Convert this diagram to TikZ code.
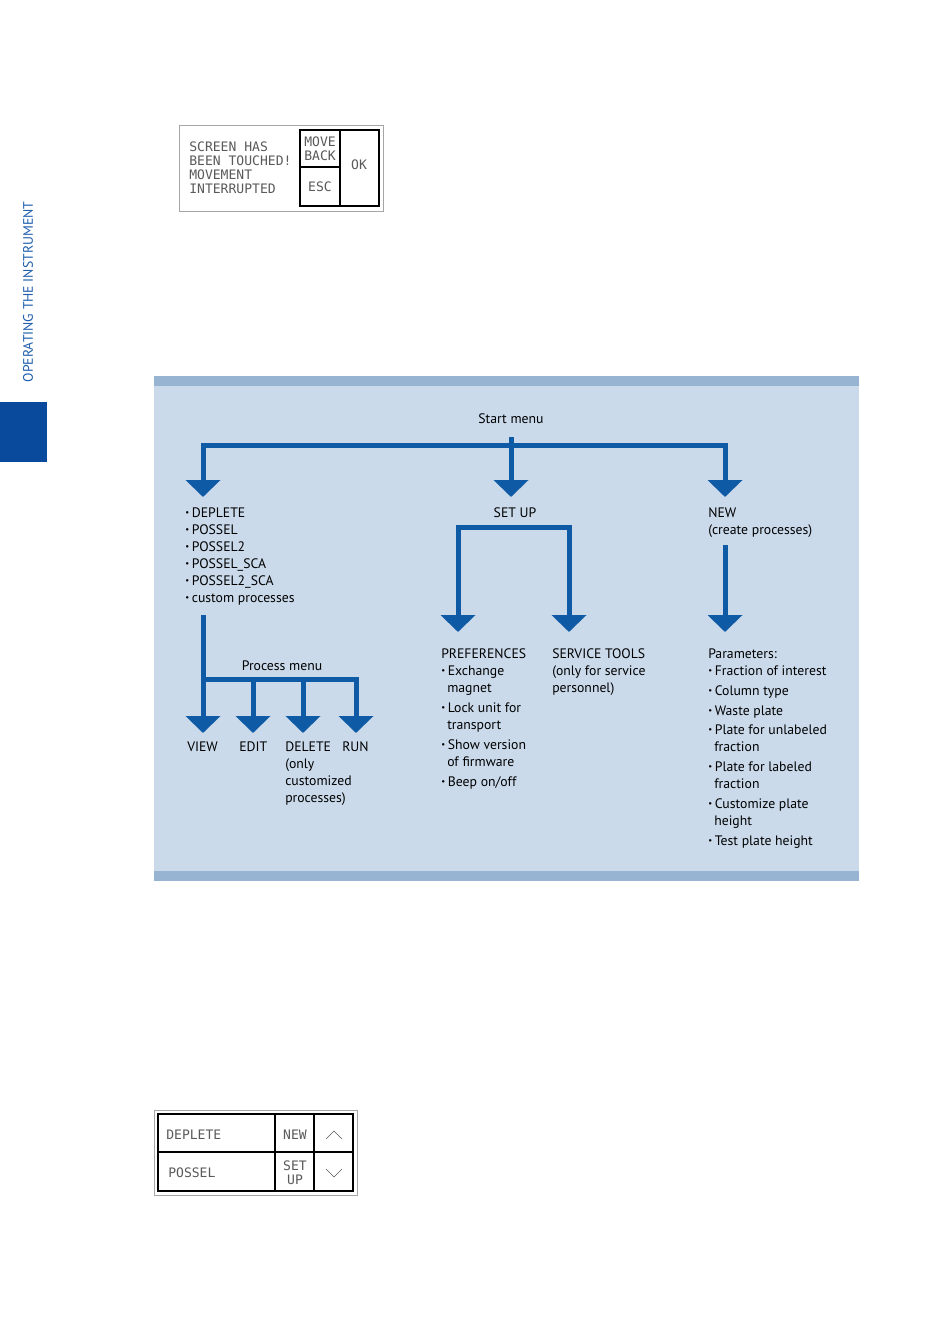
\documentclass[tikz,border=0pt]{standalone}
\usepackage{fontspec}
\setmainfont{PT Sans}
\newfontfamily\lcdfont{DejaVu Sans Mono}
\usetikzlibrary{arrows.meta}
\definecolor{panelbg}{RGB}{202,218,235}
\definecolor{panelband}{RGB}{152,180,211}
\definecolor{arrowblue}{RGB}{14,90,165}
\definecolor{sideblue}{RGB}{10,74,156}
\definecolor{sidetext}{RGB}{31,95,174}
\definecolor{lcdgray}{RGB}{90,90,90}
\newcommand\fs{\fontsize{10.3}{12}\selectfont}
\newcommand\bl{\raisebox{1pt}{\fontsize{6.5}{6.5}\selectfont\textbullet}\hspace{2pt}}
\tikzset{
  lbl/.style={anchor=base west, inner sep=0pt, font=\fs},
  clbl/.style={anchor=base, inner sep=0pt, font=\fs},
  lcdtxt/.style={anchor=base, inner sep=0pt, font=\lcdfont\fontsize{9.8}{10}\selectfont, text=lcdgray},
  lcdtxtl/.style={lcdtxt, anchor=base west},
  lcdouter/.style={draw=gray!70, line width=0.6pt},
  lcdinner/.style={draw=black, line width=1.4pt},
  lcdline/.style={draw=black, line width=1.2pt},
  chev/.style={draw=lcdgray, line width=0.5pt},
  flow/.style={draw=arrowblue, line width=3.75pt, line join=miter},
  arr/.style={flow, -{Triangle[width=25.5pt,length=12.75pt]}},
  darr/.style={flow, {Triangle[width=25.5pt,length=12.75pt]}-{Triangle[width=25.5pt,length=12.75pt]}},
}
\begin{document}
\begin{tikzpicture}[x=0.75pt,y=-0.75pt]
\useasboundingbox (0,0) rectangle (950,1344);
\fill[white] (0,0) rectangle (950,1344);

% side tab
\fill[sideblue] (0,402) rectangle (47,462);
\node[rotate=90, inner sep=0pt, font=\fs, text=sidetext] (side) at (28,292) {OPERATING THE INSTRUMENT};

% top LCD
\draw[lcdouter] (179,125) rectangle (383,211);
\draw[lcdinner] (300,130) rectangle (379,206);
\draw[lcdline] (340,130) -- (340,206);
\draw[lcdline] (300,167) -- (340,167);
\node[lcdtxtl] (l1) at (189,152) {SCREEN HAS};
\node[lcdtxtl] (l2) at (189,166) {BEEN TOUCHED!};
\node[lcdtxtl] (l3) at (189,180) {MOVEMENT};
\node[lcdtxtl] (l4) at (189,194) {INTERRUPTED};
\node[lcdtxt] (mv) at (320,147) {MOVE};
\node[lcdtxt] (bk) at (320,161) {BACK};
\node[lcdtxt] (esc) at (320,192) {ESC};
\node[lcdtxt] (ok) at (359,170) {OK};

% panel
\fill[panelbg] (154,376) rectangle (859,881);
\fill[panelband] (154,376) rectangle (859,386);
\fill[panelband] (154,871) rectangle (859,881);

% start menu
\node[clbl] (start) at (511,423) {Start menu};
\coordinate (stubtop) at (511,437);
\coordinate (tipDep) at (203,497);
\coordinate (tipSet) at (511,497);
\coordinate (tipNew) at (725,497);
\draw[darr] (tipDep) -- (203,445) -- (725,445) -- (tipNew);
\draw[arr] (stubtop) -- (tipSet);

% deplete list
\foreach \t/\y [count=\i] in {{DEPLETE}/512, {POSSEL}/529, {POSSEL2}/546, {POSSEL\_SCA}/563, {POSSEL2\_SCA}/580, {custom processes}/597}
  \node[lbl] (dep\i) at (185,\y+5) {\bl\t};

% process menu
\coordinate (procTop) at (203,615);
\coordinate (tipView) at (203,733);
\coordinate (tipEdit) at (253,733);
\coordinate (tipDel) at (303,733);
\coordinate (tipRun) at (356,733);
\node[clbl] (proc) at (282,670) {Process menu};
\draw[arr] (procTop) -- (tipView);
\draw[arr] (203,679) -- (356,679) -- (tipRun);
\draw[arr] (253,679) -- (tipEdit);
\draw[arr] (303,679) -- (tipDel);
\node[lbl] (view) at (187,751) {VIEW};
\node[lbl] (edit) at (239,751) {EDIT};
\node[lbl] (del1) at (285,751) {DELETE};
\node[lbl] (del2) at (285,768) {(only};
\node[lbl] (del3) at (285,785) {customized};
\node[lbl] (del4) at (285,802) {processes)};
\node[lbl] (run) at (342,751) {RUN};

% set up
\node[clbl] (setup) at (515,517) {SET UP};
\coordinate (tipPref) at (458,632);
\coordinate (tipServ) at (569,632);
\draw[darr] (tipPref) -- (458,527) -- (569,527) -- (tipServ);

\node[lbl] (pref) at (441,658) {PREFERENCES};
\foreach \t/\x/\y [count=\i] in {{\bl Exchange}/441/670, {magnet}/447/687, {\bl Lock unit for}/441/707, {transport}/447/724, {\bl Show version}/441/744, {of firmware}/447/761, {\bl Beep on/off}/441/781}
  \node[lbl] (pr\i) at (\x,\y+5) {\t};

\node[lbl] (serv1) at (552,658) {SERVICE TOOLS};
\node[lbl] (serv2) at (552,675) {(only for service};
\node[lbl] (serv3) at (552,692) {personnel)};

% new
\node[lbl] (new1) at (708,517) {NEW};
\node[lbl] (new2) at (708,534) {(create processes)};
\coordinate (newTop) at (725,545);
\coordinate (tipPar) at (725,632);
\draw[arr] (newTop) -- (tipPar);

\node[lbl] (par) at (708,658) {Parameters:};
\foreach \t/\x/\y [count=\i] in {{\bl Fraction of interest}/708/670, {\bl Column type}/708/690, {\bl Waste plate}/708/710, {\bl Plate for unlabeled}/708/729, {fraction}/714/746, {\bl Plate for labeled}/708/766, {fraction}/714/783, {\bl Customize plate}/708/803, {height}/714/820, {\bl Test plate height}/708/840}
  \node[lbl] (pa\i) at (\x,\y+5) {\t};

% bottom LCD
\draw[lcdouter] (154,1110) rectangle (357,1195);
\draw[lcdinner] (158,1114) rectangle (353,1191);
\draw[lcdline] (275,1114) -- (275,1191);
\draw[lcdline] (314,1114) -- (314,1191);
\draw[lcdline] (158,1152) -- (353,1152);
\node[lcdtxtl] (b1) at (166,1139) {DEPLETE};
\node[lcdtxtl] (b2) at (168,1177) {POSSEL};
\node[lcdtxt] (b3) at (295,1139) {NEW};
\node[lcdtxt] (b4) at (295,1170) {SET};
\node[lcdtxt] (b5) at (295,1184) {UP};
\draw[chev] (326,1139) -- (334,1131) -- (342,1139);
\draw[chev] (326,1169) -- (334,1177) -- (342,1169);
\end{tikzpicture}
\end{document}
